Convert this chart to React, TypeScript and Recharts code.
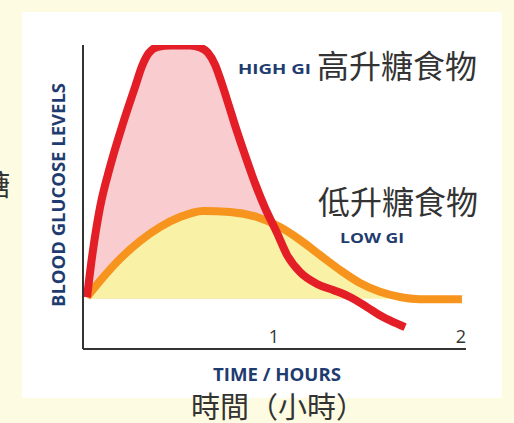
import React from 'react';
import { ComposedChart, Area, Line, XAxis, YAxis } from 'recharts';

// Time (hours) and relative blood glucose level for the HIGH GI curve
const highTimes = [0, 0.027, 0.07, 0.123, 0.193, 0.257, 0.294, 0.33, 0.38, 0.444, 0.551, 0.604, 0.645, 0.685, 0.72, 0.76, 0.791, 0.845, 0.898, 0.952, 1.016, 1.07, 1.139, 1.23, 1.316, 1.406, 1.497, 1.583, 1.674, 1.701];
const highLevels = [17, 30.3, 46.7, 59.9, 74.3, 86.2, 93.0, 97.3, 99.4, 99.8, 99.8, 99.2, 97.6, 93.5, 87.5, 79.8, 73.7, 63.8, 54.6, 46.4, 38.2, 30.9, 25.3, 21.4, 19.4, 17.1, 13.8, 10.5, 7.9, 7.2];

// Time (hours) and relative blood glucose level for the LOW GI curve
const lowTimes = [0, 0.07, 0.176, 0.283, 0.39, 0.497, 0.62, 0.765, 0.909, 1.032, 1.139, 1.246, 1.353, 1.46, 1.567, 1.674, 1.781, 1.888, 2.005];
const lowLevels = [17.1, 22.4, 29.6, 35.5, 40.1, 43.4, 45.4, 45.1, 43.4, 40.1, 35.9, 30.9, 26.0, 21.7, 18.8, 17.1, 16.4, 16.4, 16.4];

const fastingLevel = 16.5;
const highFillEnd = 1.41;
const xTicks = [1, 2];
const xTickLabels = ['1', '2'];

type Row = { t: number; high: number | null; low: number | null; highFill: number | null };

const buildData = (): Row[] => {
  const map = new Map<number, Row>();
  const get = (t: number) => map.get(t) || { t, high: null, low: null, highFill: null };
  highTimes.forEach((t, i) => {
    const r = get(t);
    r.high = highLevels[i];
    r.highFill = t <= highFillEnd ? highLevels[i] : null;
    map.set(t, r);
  });
  lowTimes.forEach((t, i) => {
    const r = get(t);
    r.low = lowLevels[i];
    map.set(t, r);
  });
  return Array.from(map.values()).sort((a, b) => a.t - b.t);
};

const data = buildData();

const navy = '#1f3c70';
const latin = "'Open Sans', 'DejaVu Sans', sans-serif";
const cjk = "'Noto Sans CJK TC', 'Noto Sans CJK SC', sans-serif";

const renderTick = (props: any) => {
  const { x, y, payload } = props;
  const idx = xTicks.indexOf(payload.value);
  return (
    <text x={x} y={y - 6} textAnchor="middle" fontFamily={latin} fontSize={18} fill="#333">
      {xTickLabels[idx] ?? String(payload.value)}
    </text>
  );
};

export default function App() {
  return (
    <div style={{ position: 'absolute', left: 0, top: 0, width: 514, height: 423, background: '#fdfbe2', overflow: 'hidden' }}>
      <div style={{ position: 'absolute', left: 22, top: 12, width: 480, height: 386, background: '#ffffff', borderRadius: 3 }} />
      <div style={{ position: 'absolute', left: 0, top: 0 }}>
        <ComposedChart width={514} height={423} data={data} margin={{ top: 45, right: 48, bottom: 44, left: 63 }}>
          <Area type="monotone" dataKey="highFill" stroke="none" fill="#f9ccd0" fillOpacity={1} baseValue={fastingLevel} connectNulls isAnimationActive={false} dot={false} activeDot={false} />
          <Area type="monotone" dataKey="low" stroke="none" fill="#f9f2a6" fillOpacity={1} baseValue={fastingLevel} connectNulls isAnimationActive={false} dot={false} activeDot={false} />
          <Line type="monotone" dataKey="low" stroke="#f7941d" strokeWidth={8} dot={false} activeDot={false} connectNulls isAnimationActive={false} />
          <Line type="monotone" dataKey="high" stroke="#e31e26" strokeWidth={8} dot={false} activeDot={false} connectNulls isAnimationActive={false} />
          <XAxis
            dataKey="t"
            type="number"
            domain={[-0.0214, 2.0267]}
            allowDataOverflow
            ticks={xTicks}
            interval={0}
            height={30}
            tickSize={0}
            tickMargin={0}
            tickLine={false}
            axisLine={{ stroke: '#333', strokeWidth: 2 }}
            tick={renderTick}
          />
          <YAxis
            type="number"
            domain={[0, 100]}
            allowDataOverflow
            width={20}
            tick={false}
            tickLine={false}
            axisLine={{ stroke: '#333', strokeWidth: 2 }}
          />
        </ComposedChart>
      </div>
      <svg width={514} height={423} style={{ position: 'absolute', left: 0, top: 0, pointerEvents: 'none' }}>
        <text x={238} y={74} fontFamily={latin} fontWeight={700} fontSize={15} fill={navy} textLength={73} lengthAdjust="spacingAndGlyphs">HIGH GI</text>
        <text x={317} y={78} fontFamily={cjk} fontSize={32} fill="#333">高升糖食物</text>
        <text x={318} y={214} fontFamily={cjk} fontSize={32} fill="#333">低升糖食物</text>
        <text x={340} y={243} fontFamily={latin} fontWeight={700} fontSize={15} fill={navy} textLength={64} lengthAdjust="spacingAndGlyphs">LOW GI</text>
        <text x={277} y={381} textAnchor="middle" fontFamily={latin} fontWeight={700} fontSize={17} fill={navy} textLength={128} lengthAdjust="spacingAndGlyphs">TIME / HOURS</text>
        <text x={65} y={195} textAnchor="middle" transform="rotate(-90, 65, 195)" fontFamily={latin} fontWeight={700} fontSize={17} fill={navy} textLength={224} lengthAdjust="spacingAndGlyphs">BLOOD GLUCOSE LEVELS</text>
        <text x={191} y={418} fontFamily={cjk} fontSize={29} fill="#333">時間（小時）</text>
        <text x={10} y={196} textAnchor="end" fontFamily={cjk} fontSize={29} fill="#333">血糖</text>
      </svg>
    </div>
  );
}
